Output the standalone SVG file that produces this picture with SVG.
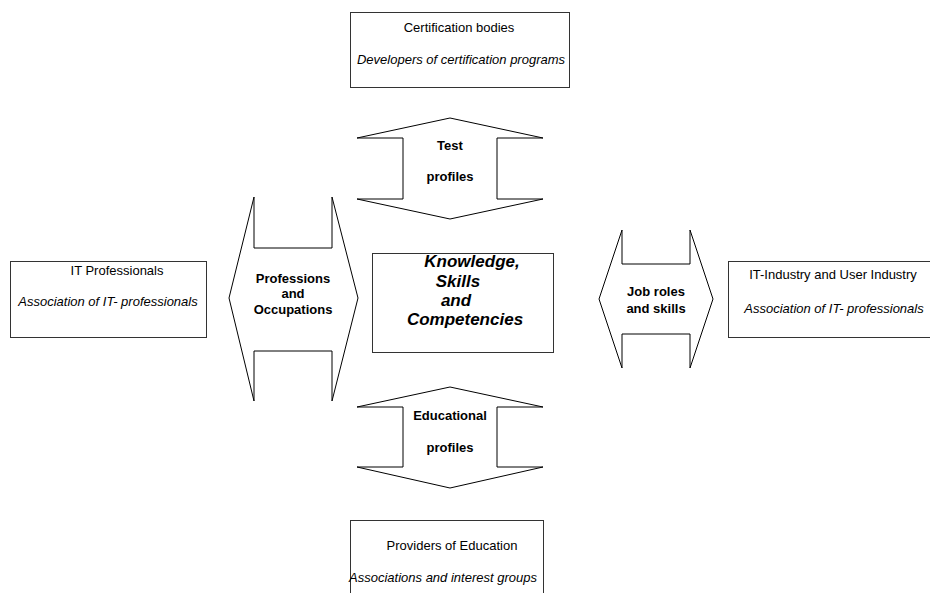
<svg xmlns="http://www.w3.org/2000/svg" width="930" height="593" viewBox="0 0 930 593">
<style>
.box{fill:#fff;stroke:#333;stroke-width:1}
.arr{fill:#fff;stroke:#000;stroke-width:1;stroke-linejoin:miter}
text{font-family:"Liberation Sans",Arial,sans-serif;fill:#000;text-anchor:middle}
.t{font-size:13px}
.i{font-size:13px;font-style:italic}
.b{font-size:13px;font-weight:bold}
.k{font-size:17px;font-weight:bold;font-style:italic}
</style>
<rect width="930" height="593" fill="#fff"/>
<g id="connectors">
<g id="arrow-test">
<path class="arr" d="M450,118 L543,138 L497,138 L497,199 L543,199 L450,219 L357,199 L403,199 L403,138 L357,138 Z"/>
<text class="b" x="450" y="150">Test</text>
<text class="b" x="450" y="181">profiles</text>
</g>
<g id="arrow-professions">
<path class="arr" d="M254,197 L254,248 L332,248 L332,197 L358,298 L332,401 L332,351 L254,351 L254,401 L229,298 Z"/>
<text class="b" x="293" y="283">Professions</text>
<text class="b" x="293" y="298">and</text>
<text class="b" x="293" y="314">Occupations</text>
</g>
<g id="arrow-jobroles">
<path class="arr" d="M622,230 L622,264 L690,264 L690,230 L713,299 L690,368 L690,334 L622,334 L622,368 L599,299 Z"/>
<text class="b" x="656" y="296">Job roles</text>
<text class="b" x="656" y="313">and skills</text>
</g>
<g id="arrow-educational">
<path class="arr" d="M450,387 L543,407 L497,407 L497,467 L543,467 L450,488 L357,467 L403,467 L403,407 L357,407 Z"/>
<text class="b" x="450" y="420">Educational</text>
<text class="b" x="450" y="452">profiles</text>
</g>
</g>
<g id="node-certification">
<rect class="box" x="350.5" y="12.5" width="219" height="75"/>
<text class="t" x="459" y="32">Certification bodies</text>
<text class="i" x="461" y="64">Developers of certification programs</text>
</g>
<g id="node-itprofessionals">
<rect class="box" x="10.5" y="261.5" width="196" height="76"/>
<text class="t" x="117" y="275">IT Professionals</text>
<text class="i" x="108" y="306">Association of IT- professionals</text>
</g>
<g id="node-ksc">
<rect class="box" x="372.5" y="253.5" width="181" height="99"/>
<text class="k" x="472" y="267">Knowledge,</text>
<text class="k" x="458" y="286.5">Skills</text>
<text class="k" x="456" y="305.5">and</text>
<text class="k" x="465" y="325">Competencies</text>
</g>
<g id="node-industry">
<rect class="box" x="728.5" y="261.5" width="210" height="76"/>
<text class="t" x="833" y="279">IT-Industry and User Industry</text>
<text class="i" x="834" y="313">Association of IT- professionals</text>
</g>
<g id="node-education">
<rect class="box" x="350.5" y="520.5" width="193" height="90"/>
<text class="t" x="452" y="550">Providers of Education</text>
<text class="i" x="443" y="582">Associations and interest groups</text>
</g>
</svg>
